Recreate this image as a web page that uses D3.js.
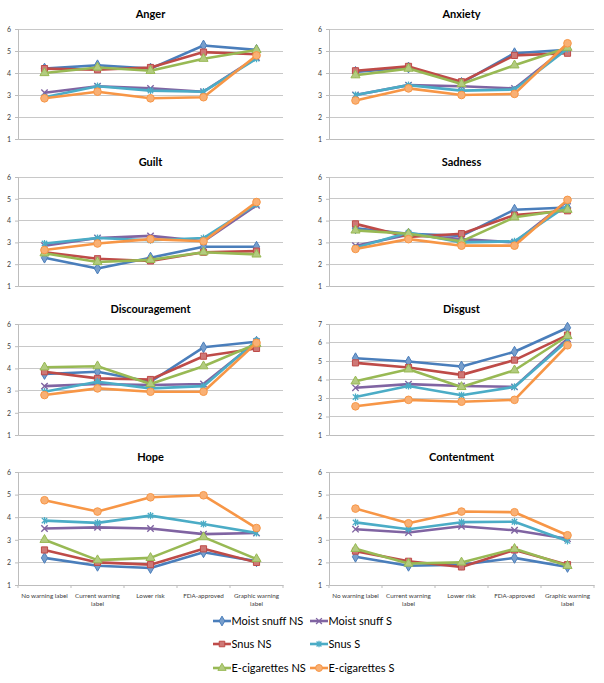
<!DOCTYPE html>
<html><head><meta charset="utf-8">
<script src="https://cdn.jsdelivr.net/npm/d3@7"></script>
<style>body{margin:0;background:#fff}svg{display:block}</style>
</head><body><svg id="c" width="604" height="683"></svg>
<script>
const categories = ["No warning label","Current warning label","Lower risk","FDA-approved","Graphic warning label"];
const categoryLines = [["No warning label"],["Current warning","label"],["Lower risk"],["FDA-approved"],["Graphic warning","label"]];
const seriesNames = ["Moist snuff NS","Moist snuff S","Snus NS","Snus S","E-cigarettes NS","E-cigarettes S"];
const seriesColors = ["#4A7EBB","#8064A2","#BE4B48","#4BACC6","#98B954","#F79646"];
const seriesMarkers = ["diamond","x","square","asterisk","triangle","circle"];
const emotions = ["Anger","Anxiety","Guilt","Sadness","Discouragement","Disgust","Hope","Contentment"];
const yMax = [6,6,6,6,6,7,6,6];

// rows follow seriesNames order
const anger = [
  [4.2,4.35,4.2,5.25,5.05],
  [3.1,3.4,3.3,3.15,4.7],
  [4.2,4.15,4.25,4.95,4.85],
  [2.9,3.4,3.2,3.15,4.65],
  [4.0,4.25,4.1,4.65,5.05],
  [2.85,3.15,2.85,2.9,4.8]
];
const anxiety = [
  [4.05,4.25,3.55,4.9,5.05],
  [3.0,3.45,3.4,3.3,5.2],
  [4.1,4.3,3.6,4.8,4.9],
  [3.0,3.45,3.2,3.25,5.1],
  [3.9,4.2,3.5,4.35,5.15],
  [2.75,3.3,3.0,3.05,5.35]
];
const guilt = [
  [2.3,1.8,2.3,2.8,2.8],
  [2.85,3.2,3.3,3.05,4.7],
  [2.55,2.25,2.15,2.55,2.6],
  [2.95,3.2,3.1,3.2,4.75],
  [2.5,2.1,2.2,2.55,2.45],
  [2.65,2.95,3.15,3.05,4.85]
];
const sadness = [
  [3.65,3.4,3.3,4.5,4.6],
  [2.85,3.35,3.15,3.0,4.9],
  [3.85,3.25,3.4,4.25,4.45],
  [2.75,3.45,3.0,3.05,4.7],
  [3.55,3.4,3.05,4.15,4.5],
  [2.7,3.15,2.85,2.85,4.95]
];
const discouragement = [
  [3.75,3.85,3.4,4.95,5.2],
  [3.2,3.3,3.25,3.3,5.2],
  [3.85,3.55,3.5,4.55,4.9],
  [2.95,3.4,3.1,3.2,5.25],
  [4.05,4.1,3.3,4.1,5.1],
  [2.8,3.1,2.95,2.95,5.15]
];
const disgust = [
  [5.15,4.97,4.7,5.5,6.8],
  [3.55,3.75,3.65,3.6,6.2],
  [4.9,4.65,4.25,5.05,6.4],
  [3.05,3.65,3.15,3.6,6.1],
  [3.9,4.55,3.6,4.5,6.35],
  [2.55,2.9,2.8,2.9,5.85]
];
const hope = [
  [2.2,1.85,1.75,2.45,2.05],
  [3.5,3.55,3.5,3.25,3.3],
  [2.55,2.0,1.9,2.6,2.0],
  [3.85,3.75,4.07,3.7,3.3],
  [3.0,2.1,2.2,3.12,2.15],
  [4.75,4.25,4.88,4.97,3.52]
];
const contentment = [
  [2.25,1.85,1.9,2.2,1.8],
  [3.47,3.32,3.6,3.42,3.05],
  [2.5,2.05,1.8,2.55,1.9],
  [3.77,3.47,3.78,3.8,2.95],
  [2.6,1.95,2.0,2.6,1.85],
  [4.38,3.73,4.25,4.22,3.2]
];
const emotionData = [anger,anxiety,guilt,sadness,discouragement,disgust,hope,contentment];

const svg = d3.select("#c");
const colX = [18, 329], plotW = 265;
const rowTop = [29, 177, 324, 472], rowBot = [139, 286, 435, 585];
const titleY = [18, 166, 313, 461];
const FONT = "Lato, 'Noto Sans', Arial, sans-serif";

function tint(c, k){ return d3.interpolateRgb(c,"#ffffff")(k); }

function drawMarker(g, type, x, y, color, s){
  s = s || 1;
  if(type==="x"){
    const r=3.2*s;
    g.append("path").attr("d",`M${x-r},${y-r}L${x+r},${y+r}M${x-r},${y+r}L${x+r},${y-r}`)
      .attr("stroke",color).attr("stroke-width",1.4).attr("fill","none");
  } else if(type==="asterisk"){
    const r=3.6*s;
    g.append("path").attr("d",`M${x-r*0.75},${y-r*0.75}L${x+r*0.75},${y+r*0.75}M${x-r*0.75},${y+r*0.75}L${x+r*0.75},${y-r*0.75}M${x},${y-r}L${x},${y+r}`)
      .attr("stroke",color).attr("stroke-width",1.3).attr("fill","none");
  } else {
    const map={diamond:d3.symbolDiamond,square:d3.symbolSquare,triangle:d3.symbolTriangle,circle:d3.symbolCircle};
    const size={diamond:34,square:38,triangle:36,circle:46}[type]*s*s;
    g.append("path").attr("d",d3.symbol().type(map[type]).size(size)())
      .attr("transform",`translate(${x},${y})`)
      .attr("fill",tint(color,0.25)).attr("stroke",color).attr("stroke-width",1);
  }
}

emotions.forEach((name,i)=>{
  const col=i%2, row=Math.floor(i/2);
  const x0=colX[col];
  const x=d3.scaleBand().domain(categories).range([x0,x0+plotW]).padding(0);
  const y=d3.scaleLinear().domain([1,yMax[i]]).range([rowBot[row],rowTop[row]]);
  const g=svg.append("g");
  const ticks=d3.range(1,yMax[i]+1);
  g.selectAll(".grid").data(ticks.slice(1)).join("line")
    .attr("x1",x0).attr("x2",x0+plotW).attr("y1",d=>y(d)).attr("y2",d=>y(d))
    .attr("stroke","#c8c8c8").attr("stroke-width",1).attr("shape-rendering","crispEdges");
  const ya=g.append("g").attr("transform",`translate(${x0},0)`)
    .call(d3.axisLeft(y).tickValues(ticks).tickFormat(d3.format("d")).tickSize(3).tickPadding(4));
  ya.select(".domain").attr("stroke","#bdbdbd");
  ya.selectAll(".tick line").attr("stroke","#bdbdbd");
  ya.selectAll("text").attr("font-family",FONT).attr("font-size",7).attr("fill","#404040");
  const xa=g.append("g").attr("transform",`translate(0,${rowBot[row]})`)
    .call(d3.axisBottom(x).tickSize(0).tickFormat(""));
  xa.select(".domain").attr("stroke","#bdbdbd");
  if(row===3){
    g.selectAll(".xt").data(d3.range(categories.length+1)).join("line")
      .attr("x1",k=>x0+k*x.bandwidth()).attr("x2",k=>x0+k*x.bandwidth())
      .attr("y1",rowBot[row]).attr("y2",rowBot[row]+3).attr("stroke","#bdbdbd");
    categories.forEach((c,k)=>{
      const t=g.append("text").attr("x",x(c)+x.bandwidth()/2).attr("y",rowBot[row]+13)
        .attr("text-anchor","middle").attr("font-family",FONT).attr("font-size",6.3).attr("fill","#404040");
      categoryLines[k].forEach((ln,j)=>t.append("tspan").attr("x",x(c)+x.bandwidth()/2).attr("dy",j?8:0).text(ln));
    });
  }
  g.append("text").attr("x",x0+plotW/2).attr("y",titleY[row]).attr("text-anchor","middle")
    .attr("font-family",FONT).attr("font-weight","bold").attr("font-size",11).attr("fill","#000").text(name);
  const line=d3.line().x((d,k)=>x(categories[k])+x.bandwidth()/2).y(d=>y(d));
  emotionData[i].forEach((vals,s)=>{
    const sg=g.append("g");
    sg.append("path").attr("d",line(vals)).attr("fill","none").attr("stroke",seriesColors[s])
      .attr("stroke-width",2.6).attr("stroke-linejoin","round");
    vals.forEach((v,k)=>drawMarker(sg,seriesMarkers[s],x(categories[k])+x.bandwidth()/2,y(v),seriesColors[s]));
  });
});

const legX=[213,310], legY=[621,644,668];
seriesNames.forEach((n,s)=>{
  const cx=legX[s%2], cy=legY[Math.floor(s/2)];
  const lg=svg.append("g");
  lg.append("line").attr("x1",cx).attr("x2",cx+18).attr("y1",cy).attr("y2",cy)
    .attr("stroke",seriesColors[s]).attr("stroke-width",2.6);
  drawMarker(lg,seriesMarkers[s],cx+9,cy,seriesColors[s],0.9);
  lg.append("text").attr("x",cx+18.5).attr("y",cy+4).attr("font-family",FONT).attr("font-size",11)
    .attr("fill","#000").text(n);
});
</script></body></html>
